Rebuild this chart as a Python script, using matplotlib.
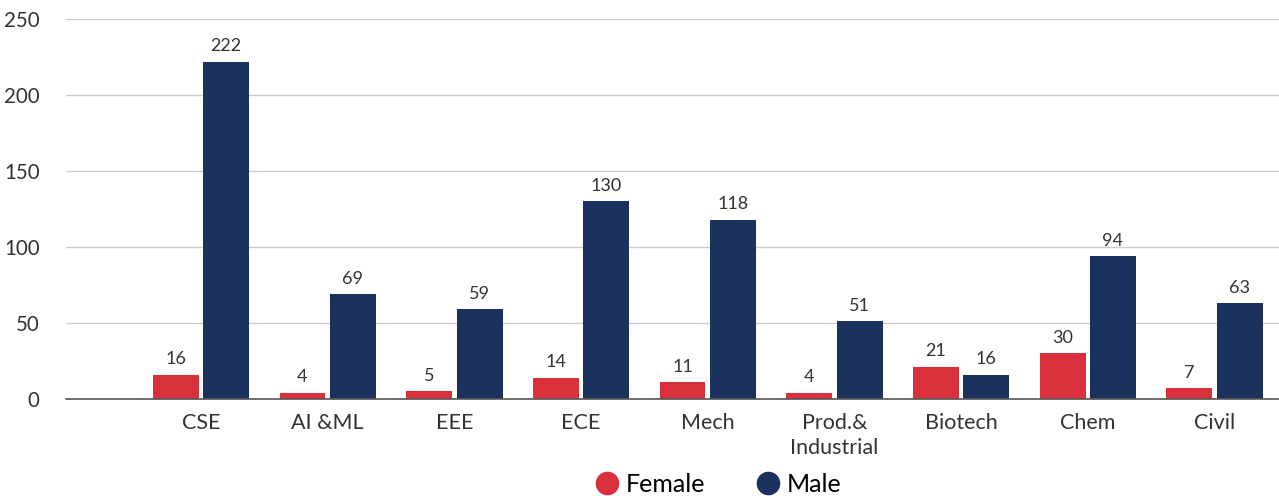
import matplotlib.pyplot as plt
from matplotlib.lines import Line2D
import numpy as np

plt.rcParams['font.family'] = ['Lato', 'DejaVu Sans']

# data
branches = ['CSE', 'AI &ML', 'EEE', 'ECE', 'Mech', 'Prod.&\nIndustrial',
            'Biotech', 'Chem', 'Civil']
female = [16, 4, 5, 14, 11, 4, 21, 30, 7]
male = [222, 69, 59, 130, 118, 51, 16, 94, 63]

RED = '#DA303C'
NAVY = '#1B325E'

fig = plt.figure(figsize=(12.79, 4.98), dpi=100)
ax = fig.add_axes([66 / 1279, 1 - 399 / 498, (1279 - 66) / 1279, 380 / 498])

x = np.arange(len(branches))
w = 0.363
off = 0.199
ax.bar(x - off, female, width=w, color=RED, zorder=3)
ax.bar(x + off, male, width=w, color=NAVY, zorder=3)

for xi, v in zip(x, female):
    ax.text(xi - off, v + 5, str(v), ha='center', va='bottom',
            fontsize=13, color='#333333')
for xi, v in zip(x, male):
    ax.text(xi + off, v + 5, str(v), ha='center', va='bottom',
            fontsize=13, color='#333333')

ax.set_xlim(-1.066, 8.51)
ax.set_ylim(0, 250)
ax.set_yticks([0, 50, 100, 150, 200, 250])
ax.yaxis.grid(True, color='#cccccc', linewidth=1, zorder=0)
ax.set_xticks(x)
ax.set_xticklabels(branches, fontsize=15.5, color='#333333', linespacing=1.3)
ax.tick_params(axis='x', length=0, pad=10)
ax.tick_params(axis='y', length=0, pad=19, labelsize=14.8, labelcolor='#333333')
for s in ['top', 'right', 'left']:
    ax.spines[s].set_visible(False)
ax.spines['bottom'].set_color('#555555')
ax.spines['bottom'].set_linewidth(1.2)
ax.spines['bottom'].set_zorder(4)

handles = [Line2D([], [], marker='o', linestyle='', markersize=16,
                  markerfacecolor=RED, markeredgecolor=RED, label='Female'),
           Line2D([], [], marker='o', linestyle='', markersize=16,
                  markerfacecolor=NAVY, markeredgecolor=NAVY, label='Male')]
fig.legend(handles=handles, loc='center', bbox_to_anchor=(718 / 1279, 1 - 484 / 498),
           ncol=2, frameon=False, fontsize=18, handletextpad=0.25,
           columnspacing=2.0, handlelength=1.0)

fig.savefig('out.png', dpi=100)
